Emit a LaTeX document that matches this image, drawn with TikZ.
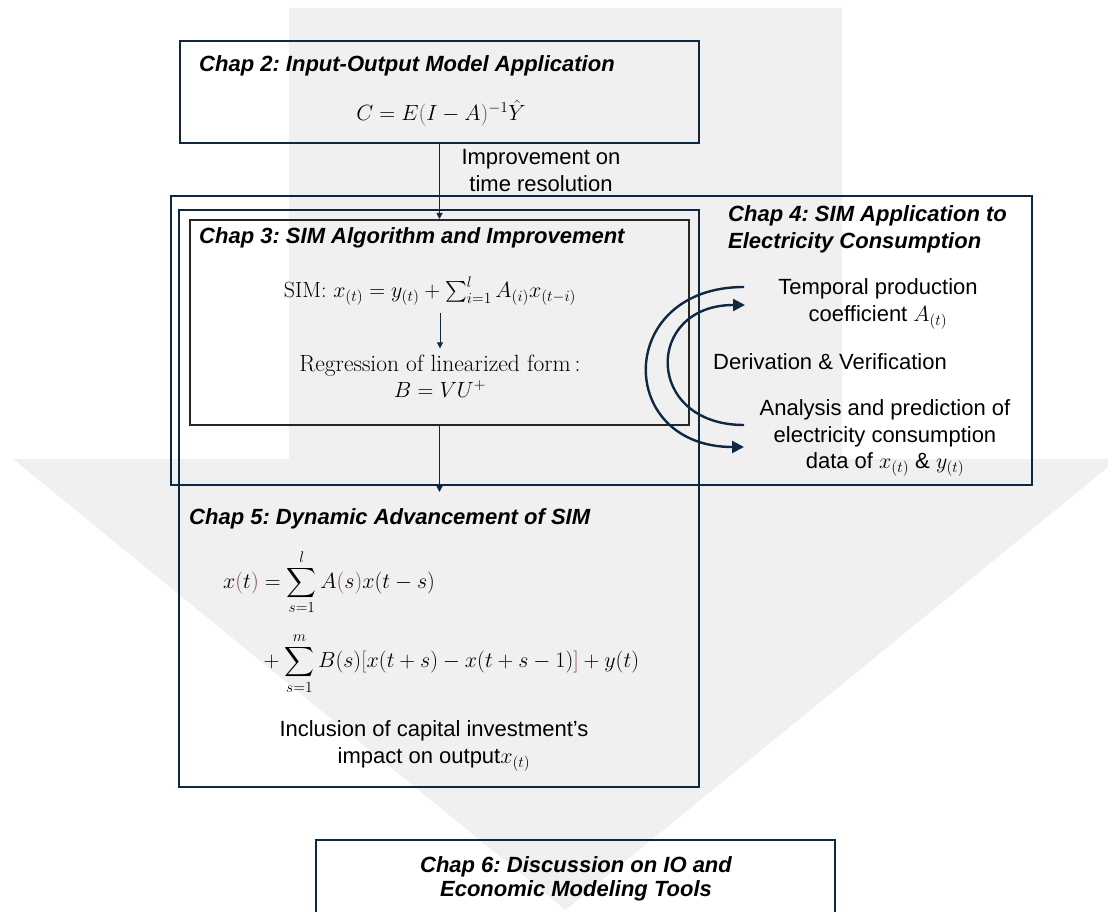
\RequirePackage{fix-cm}
\documentclass[tikz,border=0pt]{standalone}
\usepackage{amsmath}
\usepackage{fontspec}
\usepackage{tikz}
\usetikzlibrary{arrows.meta}

\newfontfamily\arialfont{Liberation Sans}
\definecolor{navy}{HTML}{0E2841}
\definecolor{bggray}{HTML}{F0F0F0}
\definecolor{eqbrown}{HTML}{7B4A3A}
\newcommand{\bp}[1]{{\color{eqbrown}#1}}
\frenchspacing

\begin{document}
\begin{tikzpicture}[x=1pt,y=-1pt]
\tikzstyle{every node}+=[inner sep=0pt,font=\arialfont\fontsize{22}{26.5}\selectfont]
\tikzstyle{chapbox}=[draw=navy,line width=2pt]
\tikzstyle{chaptitle}=[anchor=west,font=\arialfont\bfseries\itshape\fontsize{22}{27}\selectfont,align=left]
\tikzstyle{eqn}=[font=\rmfamily\fontsize{22}{26.5}\selectfont,align=center]
\tikzstyle{conn}=[navy,line width=1pt,-{Triangle[width=6pt,length=6pt]}]
\tikzstyle{loop}=[navy,line width=2.4pt,-{Triangle[width=12pt,length=12pt]}]
\useasboundingbox (0,0) rectangle (1108,912);
% big background arrow
\fill [bggray] (289,8) -- (842,8) -- (842,459) -- (1118,459) -- (565.5,910) -- (13,459) -- (289,459) -- cycle;
% chapter boxes
\node [chapbox,minimum width=519pt,minimum height=102pt] (c2) at (439.5,92) {};
\node [chapbox,minimum width=861pt,minimum height=289pt] (c4) at (601.5,340.5) {};
\node [chapbox,minimum width=520pt,minimum height=577pt] (c5) at (439,498.5) {};
\node [draw=black!85,line width=2pt,minimum width=499pt,minimum height=205pt] (c3) at (439.5,322.5) {};
\node [chapbox,minimum width=519pt,minimum height=120pt] (c6) at (575.5,900) {};
% chap 2
\node [chaptitle] (t2) at (199,66) {Chap 2: Input-Output Model Application};
\node [eqn] (io) at (441,113) {$C = E\bp{(}I - A\bp{)}^{-1}\hat{Y}$};
\node [align=center] (imp) at (541,170.5) {Improvement on\\time resolution};
% chap 3
\node [chaptitle] (t3) at (199,238) {Chap 3: SIM Algorithm and Improvement};
\node [eqn] (sim) at (430,291) {$\text{SIM:}\ x_{(t)} = y_{(t)} + \textstyle\sum_{i=1}^{l} A_{(i)} x_{(t-i)}$};
\node [eqn] (regr) at (440,376) {{\fontsize{23.5}{26.5}\selectfont Regression of linearized form\,:}\\$B = VU^{+}$};
% chap 4
\node [chaptitle] (t4) at (728,229.5) {Chap 4: SIM Application to\\Electricity Consumption};
\node [align=center] (tpc) at (878,304) {Temporal production\\coefficient $A_{(t)}$};
\node [anchor=west] (dv) at (713,362) {Derivation \& Verification};
\node [align=center] (anl) at (885,438) {Analysis and prediction of\\electricity consumption\\data of $x_{(t)}$ \& $y_{(t)}$};
% chap 5
\node [chaptitle] (t5) at (189,519) {Chap 5: Dynamic Advancement of SIM};
\node [eqn,anchor=west] (dyn) at (223,622) {$\begin{aligned}
x\bp{(}t\bp{)} &= \sum_{s=1}^{l} A\bp{(}s\bp{)}x(t-s)\\[14pt]
&+ \sum_{s=1}^{m} B(s)\bp{[}x(t+s)-x(t+s-1)\bp{]}+y(t)
\end{aligned}$};
\node [align=center] (cap) at (434,746) {Inclusion of capital investment’s\\impact on output$x_{(t)}$};
% chap 6
\node [font=\arialfont\bfseries\itshape\fontsize{22}{24}\selectfont,align=center] (t6) at (576,879) {Chap 6: Discussion on IO and\\Economic Modeling Tools};
% connectors
\coordinate (c5in) at (439.5,492);
\draw [conn] (c2.south) -- (c2.south |- c3.north);
\draw [conn,shorten <=8pt,shorten >=6pt] (regr.north |- sim.south) -- (regr.north);
\draw [conn] (c3.south) -- (c5in);
% loops between the chap 4 items
\coordinate (o1) at (744,287);
\coordinate (o2) at (744,447);
\coordinate (i1) at (744,425);
\coordinate (i2) at (745,305);
\draw [loop] (o1) .. controls (615,287) and (615,447) .. (o2);
\draw [loop] (i1) .. controls (644,425) and (644,305) .. (i2);
\end{tikzpicture}
\end{document}
